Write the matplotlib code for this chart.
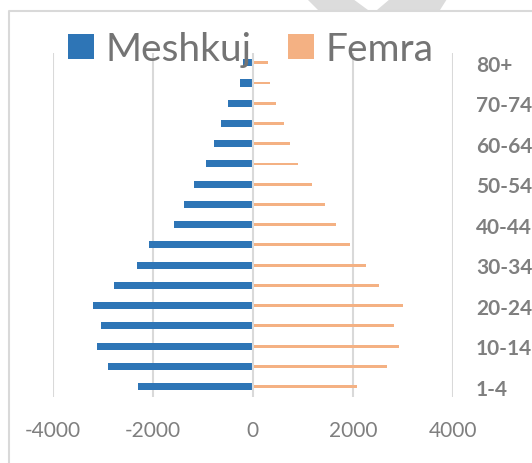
import matplotlib
matplotlib.use("Agg")
import matplotlib.pyplot as plt
from matplotlib.patches import Polygon
from matplotlib.lines import Line2D
import numpy as np

categories = ["1-4", "5-9", "10-14", "15-19", "20-24", "25-29", "30-34", "35-39",
              "40-44", "45-49", "50-54", "55-59", "60-64", "65-69", "70-74", "75-79", "80+"]
meshkuj = [2290, 2890, 3110, 3040, 3200, 2770, 2320, 2070, 1580, 1380, 1170, 930, 780, 630, 490, 260, 200]
femra = [2080, 2690, 2930, 2830, 3000, 2520, 2270, 1950, 1660, 1440, 1190, 900, 750, 620, 460, 340, 300]
x_ticks = [-4000, -2000, 0, 2000, 4000]

W, H = 532, 464
fig = plt.figure(figsize=(W / 100, H / 100), dpi=100)
fig.patch.set_facecolor("white")

ax = fig.add_axes([52.6 / W, (H - 397.7) / H, 400.4 / W, 344.1 / H])
ax.set_facecolor("none")

y = np.arange(len(categories))
blue = "#2e75b6"
orange = "#f4b183"
grid_c = "#d9d9d9"
text_c = "#7f7f7f"

ax.barh(y, -np.array(meshkuj), height=0.35, color=blue, zorder=2, label="Meshkuj")
ax.barh(y, femra, height=0.14, color=orange, zorder=2, label="Femra")

ax.set_xlim(-4000, 4000)
ax.set_ylim(-0.5, len(categories) - 0.5)
ax.set_xticks(x_ticks)
ax.set_xticklabels([str(v) for v in x_ticks])
for xv in x_ticks:
    ax.axvline(xv, color=grid_c, lw=1.5, zorder=3 if xv == 0 else 1)

ax.yaxis.tick_right()
ax.set_yticks(y[::2])
ax.set_yticklabels(categories[::2])
ax.tick_params(axis="y", length=0, pad=16.5, labelcolor=text_c)
ax.tick_params(axis="x", length=0, pad=17, labelcolor=text_c)
for lab in ax.get_yticklabels():
    lab.set_fontfamily("Lato")
    lab.set_fontweight("bold")
    lab.set_fontsize(15)
for lab in ax.get_xticklabels():
    lab.set_fontfamily("Lato")
    lab.set_fontsize(15)
for s in ax.spines.values():
    s.set_visible(False)

leg = ax.legend(ncol=2, loc="center", bbox_to_anchor=(250.8 / W, (H - 50) / H),
                bbox_transform=fig.transFigure, frameon=False,
                prop={"family": "Lato", "size": 28},
                handlelength=0.66, handleheight=0.66, handletextpad=0.3,
                columnspacing=0.95, borderpad=0, borderaxespad=0)
for t in leg.get_texts():
    t.set_color("#747474")
for h in leg.legend_handles:
    h.set_height(h.get_width())

# outer chart frame
fig.add_artist(Line2D([8.5 / W, 8.5 / W, 1.0], [0, (H - 12) / H, (H - 12) / H],
                      transform=fig.transFigure, color=grid_c, lw=1.5))
# watermark fragments at top
for pts in ([(307, 0), (353, 0), (368, 11), (318, 11)],
            [(390, 0), (447, 0), (440, 11), (377, 11)]):
    fig.add_artist(Polygon([(px / W, (H - py) / H) for px, py in pts],
                           closed=True, transform=fig.transFigure,
                           facecolor="#dcdcdc", edgecolor="none"))

fig.savefig("out.png", dpi=100, facecolor="white")
